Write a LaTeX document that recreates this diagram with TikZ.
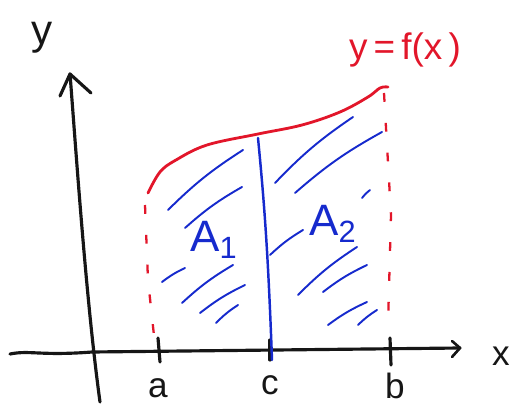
\documentclass[tikz,border=0pt]{standalone}
\usepackage{fontspec}
\setmainfont{Liberation Sans}
\definecolor{hred}{RGB}{226,22,42}
\definecolor{hblue}{RGB}{22,42,205}
\definecolor{hblack}{RGB}{22,22,22}
\begin{document}
\begin{tikzpicture}[x=0.02cm,y=-0.02cm,
  axis/.style={draw=hblack,line width=1.8pt,line cap=round,line join=round},
  curve/.style={draw=hred,line width=1.6pt,line cap=round},
  bound/.style={draw=hred,line width=1.3pt,dash pattern=on 5pt off 12pt},
  hatch/.style={draw=hblue,line width=1.1pt,line cap=round,bend left=6},
  divider/.style={draw=hblue,line width=1.4pt,line cap=round},
  lbl/.style={text=hblack,font=\fontsize{20}{24}\selectfont,inner sep=0pt},
  albl/.style={text=hblue,font=\fontsize{25}{30}\selectfont,inner sep=0pt}]
\useasboundingbox (0,0) rectangle (510,405);
% axes
\coordinate (ybot) at (100,402);
\coordinate (ytop) at (70,74);
\coordinate (xl) at (10,354);
\coordinate (xr) at (460,348);
\draw[axis] (ybot) .. controls (86,300) and (76,150) .. (ytop);
\draw[axis] (60,96) -- (ytop) -- (91,93);
\draw[axis] (xl) .. controls (30,350) and (40,356) .. (92,352) -- (xr);
\draw[axis,line width=1.5pt] (452,341) -- (xr) -- (452,357);
% ticks
\coordinate (ta1) at (158,338); \coordinate (ta2) at (160,362);
\coordinate (tc1) at (270,340); \coordinate (tc2) at (270,360);
\coordinate (tb1) at (390,338); \coordinate (tb2) at (391,365);
\draw[axis] (ta1) -- (ta2);
\draw[axis] (tc1) -- (tc2);
\draw[axis] (tb1) -- (tb2);
% curve
\draw[curve] plot[smooth,tension=0.6] coordinates {(148,193) (160,172) (176,160) (207,145) (258,134) (302,125) (340,112) (368,97) (380,88) (388,87)};
% bounds
\draw[bound] (145,205) -- (148,280) -- (155,345);
\draw[bound] (384,93) -- (391,215) -- (388,325);
% divider
\draw[divider] (258,138) .. controls (264,200) and (268,250) .. (272,360);
% hatching
\draw[hatch] (168,210) to (243,150);
\draw[hatch] (185,228) to (242,187);
\draw[hatch] (275,183) to (353,117);
\draw[hatch] (295,193) to (382,132);
\draw[hatch] (362,198) to (370,190);
\draw[hatch] (270,255) to (303,230);
\draw[hatch] (162,282) to (185,268);
\draw[hatch] (182,303) to (233,265);
\draw[hatch] (200,313) to (245,285);
\draw[hatch] (216,323) to (238,305);
\draw[hatch] (298,295) to (357,247);
\draw[hatch] (323,292) to (367,265);
\draw[hatch] (328,325) to (367,302);
\draw[hatch] (358,325) to (377,310);
% labels
\node[lbl,font=\fontsize{24}{28}\selectfont] (ylab) at (42,38) {y};
\node[lbl,text=hred,font=\fontsize{21}{26}\selectfont] (flab) at (405,50) {y\,=\,f(x\,)};
\node[albl] (a1) at (214,240) {A\textsubscript{1}};
\node[albl] (a2) at (333,224) {A\textsubscript{2}};
\node[lbl] (alab) at (158,388) {a};
\node[lbl] (clab) at (270,385) {c};
\node[lbl] (blab) at (395,386) {b};
\node[lbl] (xlab) at (501,356) {x};
\end{tikzpicture}
\end{document}
